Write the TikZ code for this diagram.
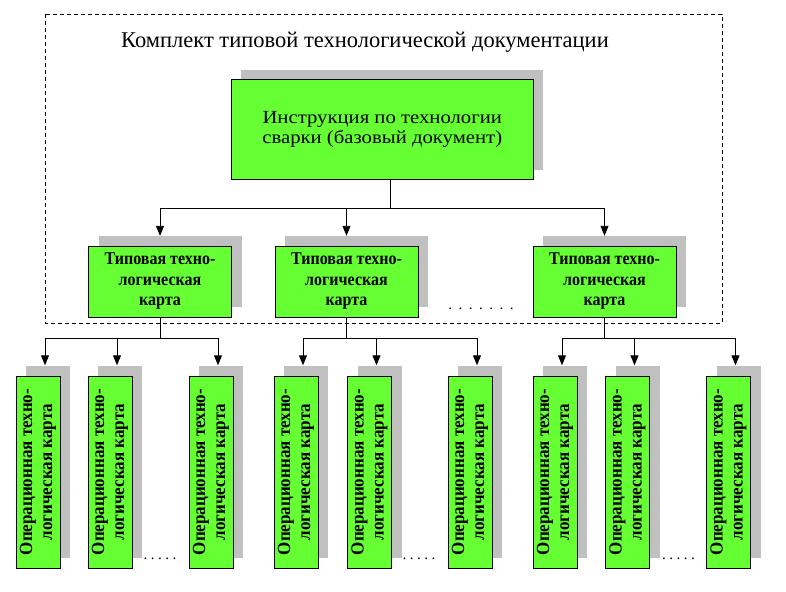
\documentclass[tikz,border=0pt]{standalone}
\usepackage{fontspec}
\setmainfont{Liberation Serif}
\newfontfamily\topfont[FakeStretch=1.12]{Liberation Serif}
\newfontfamily\midfont[FakeStretch=0.89]{Liberation Serif}
\newfontfamily\opfont[FakeStretch=0.92]{Liberation Serif}
\usetikzlibrary{arrows.meta,calc}
\definecolor{boxgreen}{RGB}{102,255,51}
\definecolor{shadowgray}{RGB}{192,192,192}
\newcommand\mydots[2]{\foreach \k in {1,...,#1}{.\ifnum\k<#1\hspace{#2}\fi}}
\tikzset{
  gbox/.style={draw=black, line width=0.9pt, fill=boxgreen, inner sep=0pt, align=center},
  shad/.style={fill=shadowgray, draw=none, inner sep=0pt},
  conn/.style={line width=0.9pt},
  arr/.style={conn, -{Triangle[width=8pt,length=10pt]}},
  topsz/.style={minimum width=301.5pt, minimum height=100pt},
  midsz/.style={minimum width=143pt, minimum height=71pt},
  opsz/.style={minimum width=44pt, minimum height=192pt},
  opszr/.style={minimum width=192pt, minimum height=44pt},
}
\begin{document}
\begin{tikzpicture}[x=1pt,y=-1pt]
\useasboundingbox[fill=white] (0,0) rectangle (786,591);
% frame
\draw[line width=0.8pt, dash pattern=on 4pt off 3pt] (45,14) rectangle (722,323);
\node[font=\fontsize{22.5}{24}\selectfont] (title) at (365,42) {Комплект типовой технологической документации};
% top box
\node[shad, topsz] (tops) at (392,120) {};
\node[gbox, topsz, font=\topfont\fontsize{18.5}{20}\selectfont] (top) at (382.25,129) {Инструкция по технологии\\сварки (базовый документ)};
% middle boxes
\foreach \i/\x in {1/160, 2/346.5, 3/604.5}{
  \node[shad, midsz] (m\i s) at (\x+10,271.5) {};
  \node[gbox, midsz, font=\midfont\bfseries\fontsize{18}{20.5}\selectfont] (m\i) at (\x,281.5) {Типовая техно-\\логическая\\карта};
}
% operational boxes
\foreach \j/\x in {1/38, 2/110, 3/211, 4/296, 5/369.5, 6/470, 7/555, 8/627.5, 9/728.5}{
  \node[shad, opsz] (o\j s) at (\x+10,461.5) {};
  \node[gbox, opszr, rotate=90, font=\opfont\bfseries\fontsize{18.5}{20}\selectfont] (o\j) at (\x,472) {Операционная техно-\\логическая карта};
}
% dots
\node[font=\fontsize{15}{15}\selectfont] (dotsA) at (481,309) {\mydots{7}{6.5pt}};
\node[font=\fontsize{15}{15}\selectfont] (dotsB) at (160,559) {\mydots{5}{3.5pt}};
\node[font=\fontsize{15}{15}\selectfont] (dotsC) at (419,559) {\mydots{5}{3.5pt}};
\node[font=\fontsize{15}{15}\selectfont] (dotsD) at (678.5,559) {\mydots{5}{3.5pt}};
% connectors top -> middle
\coordinate (bus0) at (390,208);
\draw[conn] (top.south -| bus0) -- (bus0);
\draw[arr] (bus0) -| (m1.north |- m1s.north);
\draw[arr] (bus0) -| (m2.north |- m2s.north);
\draw[arr] (bus0) -| (m3.north |- m3s.north);
% connectors middle -> operational
\foreach \i/\a/\b/\c in {1/1/2/3, 2/4/5/6, 3/7/8/9}{
  \coordinate (bus\i) at ($(m\i.south)+(0,21)$);
  \draw[conn] (m\i.south) -- (bus\i);
  \draw[arr] (bus\i) -| ($(o\a s.north)+(-3,0)$);
  \draw[arr] (bus\i) -| ($(o\b s.north)+(-3,0)$);
  \draw[arr] (bus\i) -| ($(o\c s.north)+(-3,0)$);
}
\end{tikzpicture}
\end{document}
